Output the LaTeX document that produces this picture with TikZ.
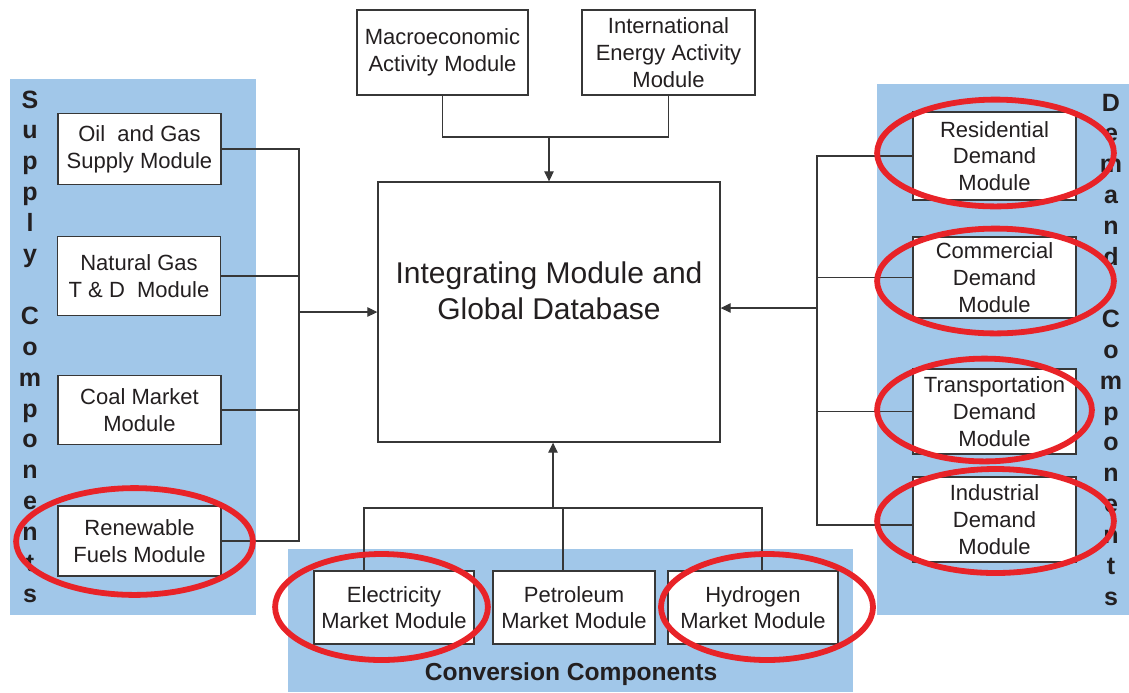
\documentclass[tikz,border=0pt]{standalone}
\usepackage{fontspec}
\setmainfont{Liberation Sans}
\usetikzlibrary{arrows.meta}
\definecolor{panelblue}{RGB}{161,199,233}
\definecolor{ringred}{RGB}{232,35,40}
\definecolor{inkgray}{RGB}{55,55,55}
\definecolor{txt}{RGB}{35,31,32}
\begin{document}
\begin{tikzpicture}[x=0.5pt,y=-0.5pt,
  panel/.style={fill=panelblue,draw=none},
  modbox/.style={draw=inkgray,line width=0.7pt,fill=white,align=center,inner sep=0pt,
    font=\fontsize{11}{13.35}\selectfont,text=txt},
  wire/.style={draw=inkgray,line width=0.55pt},
  arr/.style={wire,-{Triangle[length=5pt,width=4.8pt]}},
  ring/.style={draw=ringred,line width=2.9pt},
  vlet/.style={font=\fontsize{12.5}{14}\selectfont\bfseries,anchor=base,inner sep=0pt,text=txt}]

\useasboundingbox (0,0) rectangle (1129,692);

% panels
\fill[panel] (10,79) rectangle (256,615);
\fill[panel] (877,84) rectangle (1129,615);
\fill[panel] (288,549) rectangle (853,692);

% central
\node[modbox,minimum width=171pt,minimum height=130pt] (core) at (549,312) {};
\node[font=\fontsize{15}{18}\selectfont,align=center,text=txt,inner sep=0pt] (coretitle) at (549,291) {Integrating Module and\\Global Database};

% top
\node[modbox,minimum width=85.5pt,minimum height=42.5pt] (macro) at (442.5,52.5) {Macroeconomic\\Activity Module};
\node[modbox,minimum width=86.5pt,minimum height=42.5pt] (intl) at (668.5,52.5) {International\\Energy Activity\\Module};

% supply
\node[modbox,minimum width=81.5pt,minimum height=35.5pt] (oil) at (139.5,149) {Oil\ \ and Gas\\Supply Module};
\node[modbox,minimum width=81.5pt,minimum height=39.5pt] (natgas) at (139,276) {Natural Gas\\T \& D\ \ Module};
\node[modbox,minimum width=81.5pt,minimum height=34.5pt] (coal) at (139.5,410) {Coal Market\\Module};
\node[modbox,minimum width=81.5pt,minimum height=35pt] (renew) at (139.5,541) {Renewable\\Fuels Module};

% demand
\node[modbox,minimum width=81.5pt,minimum height=44pt] (res) at (994.5,156) {Residential\\Demand\\Module};
\node[modbox,minimum width=81.5pt,minimum height=40.5pt] (com) at (994.5,277.5) {Commercial\\Demand\\Module};
\node[modbox,minimum width=81.5pt,minimum height=42.5pt] (tra) at (994.5,411.5) {Transportation\\Demand\\Module};
\node[modbox,minimum width=81.5pt,minimum height=42.5pt] (ind) at (994.5,519.5) {Industrial\\Demand\\Module};
\coordinate (indp) at ([yshift=-2.75pt]ind.west);

% conversion
\node[modbox,minimum width=80pt,minimum height=36.5pt] (elec) at (394,607.5) {Electricity\\Market Module};
\node[modbox,minimum width=81pt,minimum height=36.5pt] (petro) at (574,607.5) {Petroleum\\Market Module};
\node[modbox,minimum width=85pt,minimum height=36.5pt] (hydro) at (753,607.5) {Hydrogen\\Market Module};
\node[font=\fontsize{12.3}{14}\selectfont\bfseries,anchor=base,inner sep=0pt,text=txt] (convlbl) at (571,680) {Conversion Components};

% top connectors
\coordinate (topj) at (549,137);
\draw[wire] (macro.south) |- (intl.south |- topj) -- (intl.south);
\draw[arr] (topj) -- (core.north);

% supply connectors
\coordinate (lbus) at (299,312);
\draw[wire] (oil.east) -| (lbus |- renew.east) -- (renew.east);
\draw[wire] (natgas.east) -- (natgas.east -| lbus);
\draw[wire] (coal.east) -- (coal.east -| lbus);
\draw[arr] (lbus) -- (core.west);

% demand connectors
\coordinate (rbus) at (817,308);
\draw[wire] (res.west) -| (rbus |- indp) -- (indp);
\draw[wire] (com.west) -- (com.west -| rbus);
\draw[wire] (tra.west) -- (tra.west -| rbus);
\draw[arr] (rbus) -- (rbus -| core.east);

% conversion connectors
\coordinate (botj) at (553,508);
\coordinate (ej) at (364,508);
\coordinate (pj) at (563,508);
\coordinate (hj) at (762,508);
\draw[wire] (ej |- elec.north) -- (ej) -- (hj) -- (hj |- hydro.north);
\draw[wire] (pj) -- (pj |- petro.north);
\draw[arr] (botj) -- (botj |- core.south);

% vertical labels
\foreach \c/\k [count=\i] in {S/0,u/1,p/2,p/3,l/4,y/5,C/7,o/8,m/9,p/10,o/11,n/12,e/13,n/14,t/15,s/16}
  \node[vlet] (sup\i) at (30,108+30.9*\k) {\c};
\foreach \c/\k [count=\i] in {D/0,e/1,m/2,a/3,n/4,d/5,C/7,o/8,m/9,p/10,o/11,n/12,e/13,n/14,t/15,s/16}
  \node[vlet] (dem\i) at (1111,111+30.9*\k) {\c};

% red rings
\draw[ring] (134.5,541.5) ellipse [x radius=59.2pt, y radius=26.7pt];
\draw[ring] (381.5,607) ellipse [x radius=53.2pt, y radius=26.5pt];
\draw[ring] (767,607) ellipse [x radius=53pt, y radius=26.5pt];
\draw[ring] (995.5,153) ellipse [x radius=59.2pt, y radius=26.7pt];
\draw[ring] (995.5,281) ellipse [x radius=59.2pt, y radius=26.2pt];
\draw[ring] (984.5,410) ellipse [x radius=53.7pt, y radius=25.7pt];
\draw[ring] (995.5,521) ellipse [x radius=59.2pt, y radius=26pt];
\end{tikzpicture}
\end{document}
